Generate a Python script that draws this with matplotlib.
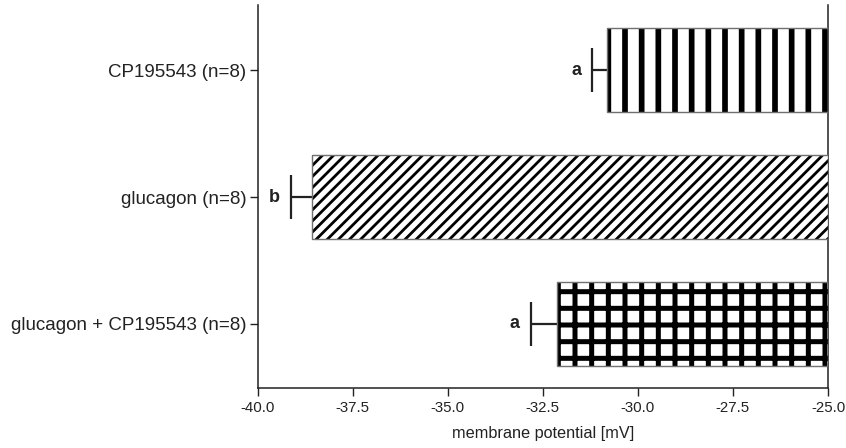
import numpy as np
import matplotlib
matplotlib.use("Agg")
import matplotlib.pyplot as plt

plt.rcParams['font.family'] = ['Liberation Sans', 'DejaVu Sans']

# ------------------------------------------------------------
# Data (membrane potential, mV)
# ------------------------------------------------------------
categories = ['CP195543 (n=8)', 'glucagon (n=8)', 'glucagon + CP195543 (n=8)']
potential = np.array([-30.82, -38.58, -32.13])
sem = np.array([0.38, 0.55, 0.68])
letters = ['a', 'b', 'a']
xticks = [-40.0, -37.5, -35.0, -32.5, -30.0, -27.5, -25.0]
baseline = -25.0

hatches = ['|', '///', '+']
hatch_lw = [4.1, 2.0, 3.6]

fig = plt.figure(figsize=(8.46, 4.48), dpi=100)
ax = fig.add_axes([257.5 / 846, 1 - 388 / 448, 570.5 / 846, 383 / 448])

ypos = np.arange(len(categories))

# bars: hatched fill + thin grey outline
for i in range(len(categories)):
    with plt.rc_context({'hatch.linewidth': hatch_lw[i]}):
        b = ax.barh(ypos[i], potential[i] - baseline, left=baseline, height=0.66,
                    color='white', edgecolor='black', linewidth=0,
                    hatch=hatches[i], zorder=3)
        for p in b:
            if hasattr(p, 'set_hatch_linewidth'):
                p.set_hatch_linewidth(hatch_lw[i])
    ax.barh(ypos[i], potential[i] - baseline, left=baseline, height=0.66,
            fill=False, edgecolor='#707070', linewidth=1.0, zorder=4)

# error bars sit behind the bars, so only the outer half shows
ax.errorbar(potential, ypos, xerr=sem, fmt='none',
            ecolor='#222222', elinewidth=1.6, capsize=15.5, capthick=1.6, zorder=2)

for i in range(len(categories)):
    ax.annotate(letters[i], xy=(potential[i] - sem[i], ypos[i]),
                xytext=(-8, 0), textcoords='offset points',
                ha='right', va='center', fontsize=13, fontweight='bold',
                color='#222222')

ax.set_xlim(-40, -25)
ax.set_ylim(2.504, -0.512)
ax.set_xticks(xticks)
ax.set_xticklabels(['%.1f' % v for v in xticks], fontsize=10.8, color='#222222')
ax.set_yticks(ypos)
ax.set_yticklabels(categories, fontsize=13.5, color='#222222')
ax.set_xlabel('membrane potential [mV]', fontsize=11.7, color='#222222', labelpad=8)

ax.spines['top'].set_visible(False)
for s in ['left', 'bottom', 'right']:
    ax.spines[s].set_color('#222222')
    ax.spines[s].set_linewidth(1.1)
ax.tick_params(axis='x', direction='out', length=6, width=1, pad=3, color='#222222')
ax.tick_params(axis='y', direction='out', length=6, width=1, pad=2, color='#222222',
               right=False)

fig.savefig('out.png', dpi=100)
